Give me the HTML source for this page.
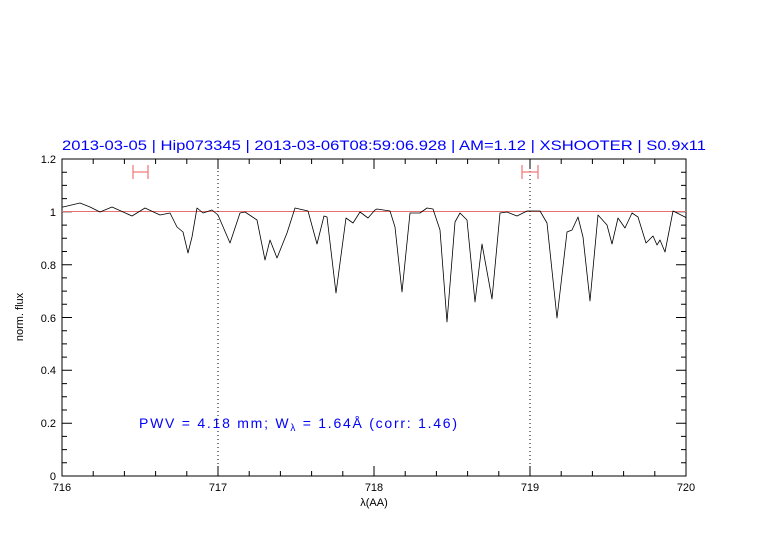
<!DOCTYPE html>
<html><head><meta charset="utf-8"><style>body{margin:0;background:#fff}svg{display:block}</style></head>
<body>
<svg width="782" height="542" xmlns="http://www.w3.org/2000/svg" font-family="Liberation Sans, sans-serif">
<rect width="782" height="542" fill="#fff"/>
<text x="62" y="150" font-size="14" fill="#0000ff" textLength="644" lengthAdjust="spacingAndGlyphs">2013-03-05 | Hip073345 | 2013-03-06T08:59:06.928 | AM=1.12 | XSHOOTER | S0.9x11</text>
<rect x="62" y="159" width="624" height="317" fill="none" stroke="#000" stroke-width="1"/>
<path stroke="#000" stroke-width="1" fill="none" d="
M62,476v-10M93.2,476v-5M124.4,476v-5M155.6,476v-5M186.8,476v-5M218,476v-10M249.2,476v-5M280.4,476v-5M311.6,476v-5M342.8,476v-5M374,476v-10M405.2,476v-5M436.4,476v-5M467.6,476v-5M498.8,476v-5M530,476v-10M561.2,476v-5M592.4,476v-5M623.6,476v-5M654.8,476v-5M686,476v-10
M62,159v10M93.2,159v5M124.4,159v5M155.6,159v5M186.8,159v5M218,159v10M249.2,159v5M280.4,159v5M311.6,159v5M342.8,159v5M374,159v10M405.2,159v5M436.4,159v5M467.6,159v5M498.8,159v5M530,159v10M561.2,159v5M592.4,159v5M623.6,159v5M654.8,159v5M686,159v10
M62,476h10M62,462.8h5M62,449.6h5M62,436.4h5M62,423.2h10M62,410h5M62,396.8h5M62,383.6h5M62,370.3h10M62,357.1h5M62,343.9h5M62,330.7h5M62,317.5h10M62,304.3h5M62,291.1h5M62,277.9h5M62,264.7h10M62,251.5h5M62,238.3h5M62,225.1h5M62,211.8h10M62,198.6h5M62,185.4h5M62,172.2h5
M686,476h-10M686,462.8h-5M686,449.6h-5M686,436.4h-5M686,423.2h-10M686,410h-5M686,396.8h-5M686,383.6h-5M686,370.3h-10M686,357.1h-5M686,343.9h-5M686,330.7h-5M686,317.5h-10M686,304.3h-5M686,291.1h-5M686,277.9h-5M686,264.7h-10M686,251.5h-5M686,238.3h-5M686,225.1h-5M686,211.8h-10M686,198.6h-5M686,185.4h-5M686,172.2h-5"/>
<line x1="62" y1="211.5" x2="686" y2="211.5" stroke="#e87070" stroke-width="1"/>
<line x1="218" y1="159" x2="218" y2="476" stroke="#000" stroke-dasharray="1,3"/>
<line x1="530" y1="159" x2="530" y2="476" stroke="#000" stroke-dasharray="1,3"/>
<g stroke="#f08080" stroke-width="1.3">
<line x1="133" y1="172" x2="148" y2="172"/><line x1="133" y1="165" x2="133" y2="179"/><line x1="148" y1="165" x2="148" y2="179"/>
<line x1="522" y1="172" x2="538" y2="172"/><line x1="522" y1="165" x2="522" y2="179"/><line x1="538" y1="165" x2="538" y2="179"/>
</g>
<polyline fill="none" stroke="#000" stroke-width="0.8" stroke-linejoin="round" points="62,207 63,207 80,203 90,207 100,212 112,207 132,216 145,208 160,215 170,213 177,227 183,232 188,253 192,237 197,208 203,213 212,210 218,215 230,243 240,213 245,212 257,220 265,260 270,240 277,258 287,233 295,208 308,211 317,244 324,216 327,217 336,293 346,218 353,223 360,212 368,218 375,210 377,209 390,211 395,227 402,292 410,213 420,213 427,208 433,209 440,230 447,322 455,222 460,213 467,220 475,302 482,244 492,299 500,213 507,212 517,216 527,211 540,211 547,223 557,318 567,232 572,230 578,217 583,237 590,301 598,215 607,225 612,244 618,218 625,228 632,213 638,217 646,243 653,236 657,245 660,240 665,252 673,211 685,217 686,218"/>
<g font-size="11" fill="#000" text-anchor="middle">
<text x="62" y="491">716</text><text x="218" y="491">717</text><text x="374" y="491">718</text><text x="530" y="491">719</text><text x="686" y="491">720</text>
<text x="374" y="506">λ(AA)</text>
</g>
<g font-size="11" fill="#000" text-anchor="end">
<text x="56" y="480">0</text><text x="56" y="427">0.2</text><text x="56" y="374">0.4</text><text x="56" y="322">0.6</text><text x="56" y="269">0.8</text><text x="56" y="216">1</text><text x="56" y="163">1.2</text>
</g>
<text transform="translate(23,317) rotate(-90)" font-size="11" text-anchor="middle">norm. flux</text>
<text x="139" y="428" font-size="14" fill="#0000ff" textLength="318" lengthAdjust="spacing">PWV = 4.18 mm; W<tspan font-size="10" dy="3">λ</tspan><tspan dy="-3"> = 1.64Å (corr: 1.46)</tspan></text>
</svg>
</body></html>
